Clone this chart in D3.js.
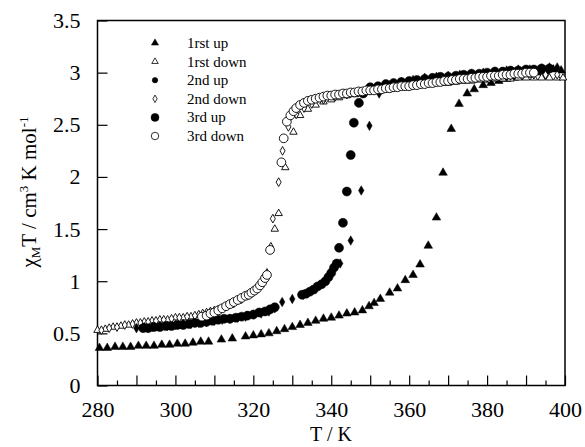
<!DOCTYPE html>
<html>
<head>
<meta charset="utf-8">
<script src="https://cdn.jsdelivr.net/npm/d3@7"></script>
<style>
  body { margin: 0; background: #fff; }
  text { font-family: "Liberation Serif", "DejaVu Serif", serif; fill: #000; }
</style>
</head>
<body>
<div id="chart"></div>
<script>
// Data: [T (K), chiM*T (cm3 K mol-1)]
let up1 = [[280.5,0.36],[282.5,0.36],[284.5,0.37],[286.5,0.37],[288.5,0.37],[290.5,0.38],[292.5,0.38],[294.5,0.38],
  [296.5,0.39],[298.5,0.39],[300.5,0.40],[302.5,0.40],[304.5,0.41],[306.5,0.42],[308.5,0.42],[311.8,0.44],[314.6,0.45],
  [318,0.47],[320,0.48],[322,0.49],[324,0.50],[326,0.52],[328,0.54],[330,0.56],[332,0.58],[334,0.60],[336,0.62],
  [338,0.64],[340,0.65],[342,0.67],[344,0.69],[346,0.70],[348,0.72],[349.7,0.76],[351,0.79],[352.6,0.83],[355,0.89],
  [357,0.93],[359,1.01],[361,1.06],[362.8,1.16],[364.9,1.34],[367,1.61],[368.7,2.04],[370.8,2.46],[372.8,2.70],
  [374.9,2.80],[376.7,2.84],[379,2.88],[381,2.90],[383,2.92],[385,2.94],[387,2.95],[389,2.97],[391,2.98],[393,3.00],
  [395,3.01],[397,3.03],[399,3.02]];

let down1 = [[280,0.53],[282,0.54],[284,0.56],[286,0.57],[288,0.58],[290,0.60],[292,0.61],[294,0.62],[296,0.63],
  [298,0.63],[300,0.65],[302,0.65],[304,0.66],[306,0.68],[308,0.70],[310,0.72],[312,0.74],[314,0.77],[316,0.81],
  [318,0.85],[320,0.90],[322,0.98],[323.5,1.08],[325.5,1.50],[326.5,1.65],[328.2,2.09],[330.3,2.43],[332,2.59],
  [334,2.65],[336,2.69],[338,2.72],[340,2.74],[342,2.76],[344,2.78],[346,2.79],[348,2.80],[350,2.82],[352,2.83],
  [354,2.84],[356,2.85],[358,2.86],[360,2.87],[362,2.88],[364,2.88],[366,2.89],[368,2.90],[370,2.90],[372,2.91],
  [374,2.92],[376,2.92],[378,2.93],[380,2.93],[382,2.94],[384,2.94],[386,2.94],[388,2.95],[390,2.95],[392,2.95],
  [394,2.95],[396,2.95],[398,2.95],[399.5,2.95]];

let up2 = [[290,0.55],[292,0.56],[294,0.56],[296,0.57],[298,0.57],[300,0.58],[302,0.59],[304,0.59],[306,0.60],
  [308,0.61],[310,0.62],[312,0.63],[314,0.64],[316,0.65],[318,0.66],[320,0.68],[322,0.69],[324,0.71],[325.5,0.74],
  [327.4,0.80],[330,0.83],[332.8,0.87],[334,0.89],[335,0.91],[336,0.93],[337,0.96],[338.4,1.01],[339.5,1.06],
  [340.4,1.13],[342.3,1.17],[345,1.39],[347.7,1.87],[349.8,2.49],[352.3,2.80],[355,2.88],[358,2.91],[361,2.93],
  [364,2.95],[367,2.96],[370,2.97],[373,2.98],[376,2.99],[379,3.00],[382,3.01],[385,3.02],[388,3.03],[391,3.03],
  [394,3.04],[396,3.05],[398,3.05]];

let down2 = [[281,0.53],[283,0.55],[285,0.56],[287,0.58],[289,0.59],[291,0.60],[293,0.61],[295,0.62],[297,0.63],
  [299,0.64],[301,0.65],[303,0.66],[305,0.67],[307,0.69],[309,0.71],[311,0.73],[313,0.76],[315,0.79],[317,0.83],
  [319,0.88],[321,0.94],[323,1.03],[324.5,1.33],[325,1.60],[326.5,1.95],[327.5,2.25],[329,2.48],[331,2.60],
  [333,2.66],[335,2.70],[338,2.74],[341,2.77],[344,2.79],[347,2.81],[350,2.83],[353,2.85],[356,2.86],[359,2.88],
  [362,2.89],[365,2.90],[368,2.92],[371,2.93],[374,2.94],[377,2.95],[380,2.95],[383,2.96],[386,2.97],[389,2.97],
  [392,2.98],[395,2.98],[398,2.98]];

let up3 = [[291.7,0.55],[293,0.55],[294.5,0.56],[296,0.56],[297.5,0.57],[299,0.57],[300.5,0.58],[302,0.58],
  [303.5,0.59],[305,0.60],[306.5,0.60],[308,0.61],[309.5,0.62],[311,0.63],[312.5,0.64],[314,0.64],[315.5,0.65],
  [317,0.66],[318.5,0.67],[320,0.68],[321.5,0.70],[323,0.71],[324.3,0.73],[325.5,0.75],[332.5,0.87],[333.5,0.88],
  [334.5,0.90],[335.5,0.92],[336.5,0.95],[337.5,0.97],[338.5,1.00],[339.3,1.04],[340,1.08],[340.7,1.13],[341.4,1.17],
  [342,1.32],[343,1.56],[344,1.86],[345,2.21],[345.8,2.52],[347.1,2.71],[348.2,2.80],[350,2.86],[352,2.87],
  [354,2.89],[356,2.90],[358,2.91],[360,2.92],[362,2.93],[364,2.94],[366,2.95],[368,2.96],[370,2.96],[372,2.97],
  [374,2.98],[376,2.99],[378,2.99],[380,3.00],[382,3.01],[384,3.01],[386,3.02],[388,3.02],[390,3.03],[392,3.03],
  [394,3.04],[396,3.04]];

let down3 = [[306.8,0.66],[308,0.67],[309,0.69],[310,0.70],[311,0.72],[312,0.74],[313,0.76],[314,0.78],[315,0.80],
  [316,0.82],[317,0.84],[318,0.86],[318.8,0.87],[319.5,0.89],[320.3,0.91],[321,0.93],[321.7,0.96],[322.3,0.99],
  [323,1.03],[323.5,1.06],[324.3,1.30],[327.2,2.14],[327.8,2.37],[328.6,2.53],[329.5,2.59],[330.3,2.63],[331,2.66],
  [332,2.69],[333,2.71],[334,2.73],[335,2.74],[336,2.75],[337,2.76],[338,2.77],[339,2.78],[340,2.78],[341,2.79],
  [342,2.79],[343,2.80],[344,2.80],[345,2.81],[346,2.81],[347,2.82],[348,2.82],[349,2.83],[350,2.83],[351,2.83],
  [352,2.84],[353,2.84],[354,2.85],[355,2.85],[356,2.86],[357,2.86],[358,2.87],[359,2.87],[360,2.87],[361,2.88],
  [362,2.88],[363,2.89],[364,2.89],[365,2.90],[366,2.90],[367,2.91],[368,2.91],[369,2.92],[370,2.92],[371,2.93],
  [372,2.93],[373,2.94],[374,2.94],[375,2.94],[376,2.95],[377,2.95],[378,2.96],[379,2.96],[380,2.96],[381,2.97],
  [382,2.97],[383,2.97],[384,2.98],[385,2.98],[386,2.98],[387,2.99],[388,2.99],[389,2.99],[390,3.00],[391,3.00],
  [392,3.00]];

let seriesNames = ["1rst up", "1rst down", "2nd up", "2nd down", "3rd up", "3rd down"];
let xTickLabels = [280, 300, 320, 340, 360, 380, 400];
let yTickLabels = [0, 0.5, 1, 1.5, 2, 2.5, 3, 3.5];

// svg attributes
let svgWidth = 585;
let svgHeight = 447;
let plotLeft = 97.5, plotRight = 565, plotTop = 20.5, plotBottom = 385.5;

let svg = d3.select("#chart")
  .append("svg")
  .attr("width", svgWidth)
  .attr("height", svgHeight);

let xScale = d3.scaleLinear().domain([280, 400]).range([plotLeft, plotRight]);
let yScale = d3.scaleLinear().domain([0, 3.5]).range([plotBottom, plotTop]);

// frame
svg.append("rect")
  .attr("x", plotLeft).attr("y", plotTop)
  .attr("width", plotRight - plotLeft).attr("height", plotBottom - plotTop)
  .attr("fill", "none").attr("stroke", "#000").attr("stroke-width", 1.5);

// x axis: ticks inside, major every 10 K, minor every 5 K, labels every 20 K
let xAxis = d3.axisBottom(xScale)
  .tickValues(d3.range(280, 401, 10))
  .tickSize(-10)
  .tickFormat(d => xTickLabels.includes(d) ? d : "");
let gx = svg.append("g")
  .attr("transform", `translate(0,${plotBottom})`)
  .call(xAxis);
gx.select(".domain").remove();
gx.selectAll("line").attr("stroke-width", 1.2);
gx.selectAll("text").attr("y", 0).attr("dy", 31).style("font-size", "22px");

svg.append("g")
  .attr("transform", `translate(0,${plotBottom})`)
  .call(d3.axisBottom(xScale).tickValues(d3.range(285, 400, 10)).tickSize(-5).tickFormat(""))
  .call(g => g.select(".domain").remove())
  .selectAll("line").attr("stroke-width", 1.2);

// y axis: ticks inside every 0.5
let gy = svg.append("g")
  .attr("transform", `translate(${plotLeft},0)`)
  .call(d3.axisLeft(yScale).tickValues(yTickLabels).tickSize(-10).tickPadding(17).tickFormat(d => d));
gy.select(".domain").remove();
gy.selectAll("line").attr("stroke-width", 1.2);
gy.selectAll("text").style("font-size", "22px");

// axis titles
svg.append("text")
  .attr("x", 331).attr("y", 441)
  .attr("text-anchor", "middle").style("font-size", "20px")
  .text("T / K");

let yTitle = svg.append("text")
  .attr("transform", "translate(36,192) rotate(-90)")
  .attr("text-anchor", "middle").style("font-size", "21px");
yTitle.append("tspan").text("χ");
yTitle.append("tspan").attr("dy", 4).style("font-size", "13px").text("M");
yTitle.append("tspan").attr("dy", -4).text("T / cm");
yTitle.append("tspan").attr("dy", -8).style("font-size", "13px").text("3");
yTitle.append("tspan").attr("dy", 8).text(" K mol");
yTitle.append("tspan").attr("dy", -8).style("font-size", "13px").text("-1");

// marker styles per series
let styles = [
  { data: up1,   type: d3.symbolTriangle, size: 32, fill: "#000", legendType: d3.symbolTriangle, legendSize: 22 },
  { data: down1, type: d3.symbolTriangle, size: 24, fill: "#fff", legendType: d3.symbolTriangle, legendSize: 18 },
  { data: down2, type: d3.symbolDiamond,  size: 22, fill: "#fff", legendType: d3.symbolDiamond,  legendSize: 16 },
  { data: up2,   type: d3.symbolDiamond,  size: 26, fill: "#000", legendType: d3.symbolCircle,   legendSize: 24 },
  { data: up3,   type: d3.symbolCircle,   size: 64, fill: "#000", legendType: d3.symbolCircle,   legendSize: 50 },
  { data: down3, type: d3.symbolCircle,   size: 60, fill: "#fff", legendType: d3.symbolCircle,   legendSize: 44 }
];
let legendOrder = [0, 1, 3, 2, 4, 5];

let plot = svg.append("g");
styles.forEach(s => {
  plot.append("g").selectAll("path")
    .data(s.data)
    .enter()
    .append("path")
    .attr("transform", d => `translate(${xScale(d[0])},${yScale(d[1])})`)
    .attr("d", d3.symbol().type(s.type).size(s.size))
    .attr("fill", s.fill)
    .attr("stroke", "#000")
    .attr("stroke-width", s.fill === "#fff" ? 0.9 : 0.5);
});

// legend
let legend = svg.append("g").selectAll("g")
  .data(seriesNames)
  .enter()
  .append("g")
  .attr("transform", (d, i) => `translate(155,${43 + i * 18.6})`);

legend.append("path")
  .attr("d", (d, i) => d3.symbol().type(styles[legendOrder[i]].legendType).size(styles[legendOrder[i]].legendSize)())
  .attr("fill", (d, i) => styles[legendOrder[i]].fill)
  .attr("stroke", "#000")
  .attr("stroke-width", (d, i) => styles[legendOrder[i]].fill === "#fff" ? 0.8 : 0.5);

legend.append("text")
  .attr("x", 32).attr("y", 5)
  .style("font-size", "15px")
  .text(d => d);
</script>
</body>
</html>
